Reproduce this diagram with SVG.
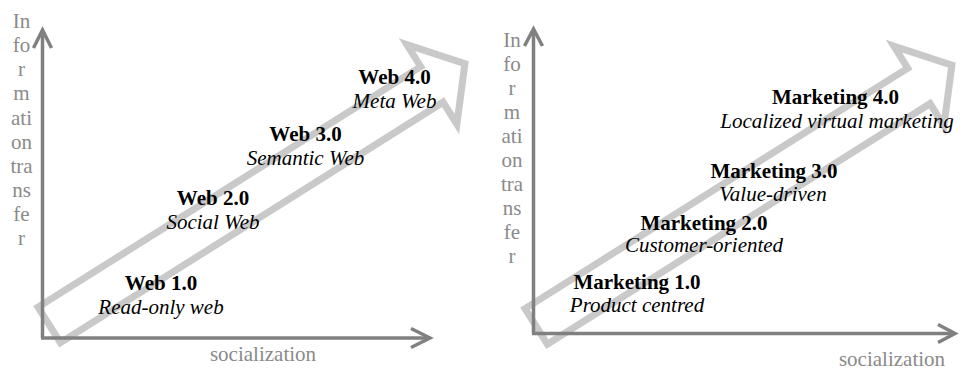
<svg xmlns="http://www.w3.org/2000/svg" width="961" height="370" viewBox="0 0 961 370">
  <style>
    .axis { fill: none; stroke: #808080; stroke-width: 3.5; stroke-linecap: butt; }
    .head { fill: none; stroke: #808080; stroke-width: 3.5; stroke-linejoin: miter; stroke-linecap: butt; }
    .band { fill: none; stroke: #c9c9c9; stroke-width: 7; stroke-linejoin: miter; stroke-miterlimit: 10; }
    text { font-family: 'Liberation Serif', 'DejaVu Serif', serif; font-size: 21px; text-anchor: middle; }
    .axlabel { fill: #8a8a8a; }
    .title { font-weight: bold; fill: #000; }
    .sub { font-style: italic; fill: #000; }
  </style>
  <defs>
    <!-- hollow block arrow, drawn along +x from its tail -->
    <polygon id="blockArrow" class="band" points="2,-21 454,-21 454,-47 493,0 454,47 454,21 2,21"/>
  </defs>

  <!-- rising progress arrows -->
  <g id="progress-left"><use href="#blockArrow" transform="translate(47.5,326) rotate(-32.15)"/></g>
  <g id="progress-right"><use href="#blockArrow" transform="translate(534.5,327.5) rotate(-32.15)"/></g>

  <!-- axes -->
  <g id="connectors">
    <path class="axis" d="M42.5,338 V31"/>
    <path class="head" d="M33.5,48 L42.5,30 L51.5,48"/>
    <path class="axis" d="M41,338 H428"/>
    <path class="head" d="M411,328.5 L430,338 L411,347.5"/>

    <path class="axis" d="M533.5,333.5 V30"/>
    <path class="head" d="M524.5,46 L533.5,29 L542.5,46"/>
    <path class="axis" d="M532,333.5 H953"/>
    <path class="head" d="M938,324.5 L955,333.5 L938,342.5"/>
  </g>

  <!-- axis captions -->
  <g id="yaxis-left" class="axlabel" font-family="Liberation Serif, serif">
    <text class="axlabel" x="21.5" y="28">In</text>
    <text class="axlabel" x="21.5" y="52">fo</text>
    <text class="axlabel" x="21.5" y="76">r</text>
    <text class="axlabel" x="21.5" y="100">m</text>
    <text class="axlabel" x="21.5" y="124.5">ati</text>
    <text class="axlabel" x="21.5" y="148.5">on</text>
    <text class="axlabel" x="21.5" y="172.5">tra</text>
    <text class="axlabel" x="21.5" y="196.5">ns</text>
    <text class="axlabel" x="21.5" y="220.5">fe</text>
    <text class="axlabel" x="21.5" y="244.5">r</text>
  </g>
  <g id="xaxis-left"><text class="axlabel" x="263" y="361">socialization</text></g>

  <g id="yaxis-right">
    <text class="axlabel" x="512" y="47">In</text>
    <text class="axlabel" x="512" y="71">fo</text>
    <text class="axlabel" x="512" y="95">r</text>
    <text class="axlabel" x="512" y="119">m</text>
    <text class="axlabel" x="512" y="143">ati</text>
    <text class="axlabel" x="512" y="167">on</text>
    <text class="axlabel" x="512" y="191">tra</text>
    <text class="axlabel" x="512" y="215">ns</text>
    <text class="axlabel" x="512" y="239">fe</text>
    <text class="axlabel" x="512" y="263">r</text>
  </g>
  <g id="xaxis-right"><text class="axlabel" x="892" y="366">socialization</text></g>

  <!-- web stages -->
  <g id="web1"><text class="title" x="161" y="290">Web 1.0</text><text class="sub" x="161" y="313.5">Read-only web</text></g>
  <g id="web2"><text class="title" x="213" y="205">Web 2.0</text><text class="sub" x="213" y="228.5">Social Web</text></g>
  <g id="web3"><text class="title" x="305.5" y="141">Web 3.0</text><text class="sub" x="305.5" y="164.5">Semantic Web</text></g>
  <g id="web4"><text class="title" x="394.5" y="84">Web 4.0</text><text class="sub" x="394.5" y="107.5">Meta Web</text></g>

  <!-- marketing stages -->
  <g id="marketing1"><text class="title" x="637" y="288.5">Marketing 1.0</text><text class="sub" x="637" y="312">Product centred</text></g>
  <g id="marketing2"><text class="title" x="704" y="229.5">Marketing 2.0</text><text class="sub" x="704" y="252">Customer-oriented</text></g>
  <g id="marketing3"><text class="title" x="774" y="177.5">Marketing 3.0</text><text class="sub" x="773" y="201">Value-driven</text></g>
  <g id="marketing4"><text class="title" x="835.5" y="104">Marketing 4.0</text><text class="sub" x="837" y="128">Localized virtual marketing</text></g>
</svg>
